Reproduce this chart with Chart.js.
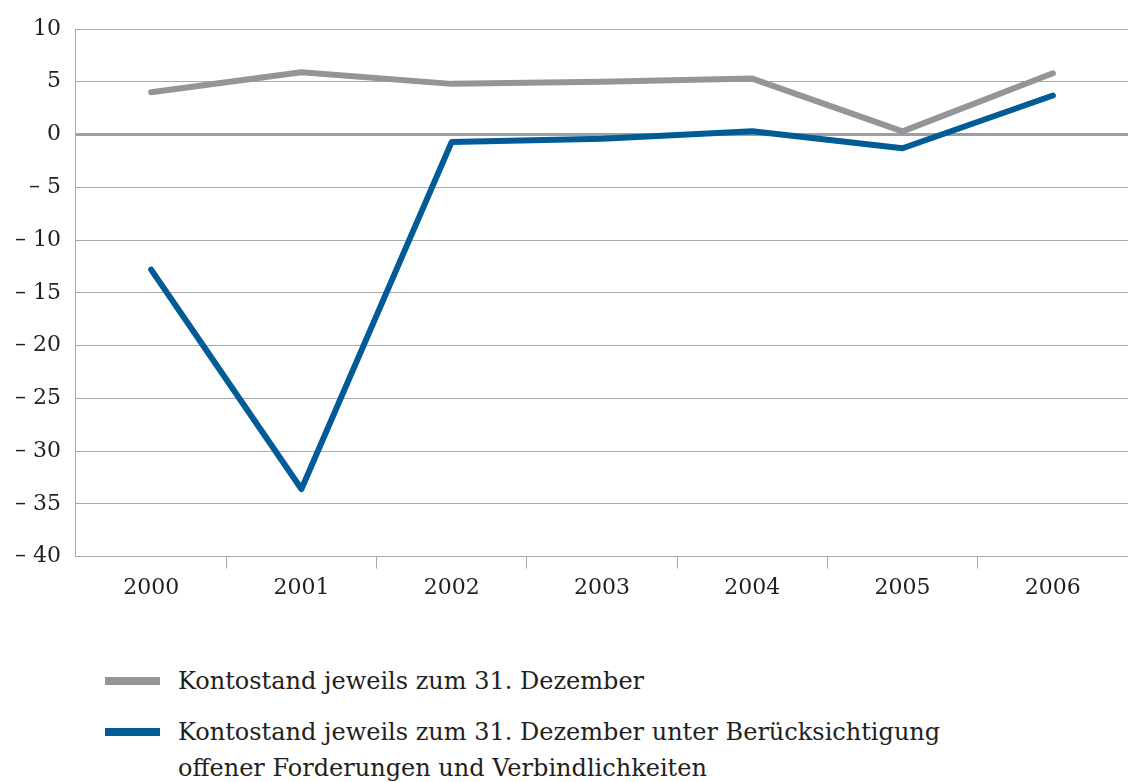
<!DOCTYPE html>
<html>
<head>
<meta charset="utf-8">
<script src="https://cdn.jsdelivr.net/npm/chart.js@4"></script>
<style>
  html, body { margin: 0; padding: 0; background: #fff; }
  body { width: 1128px; height: 782px; position: relative; overflow: hidden; font-family: "DejaVu Serif", serif; color: #231f20; }
  #wrap { position: absolute; left: 0; top: 0; width: 1128px; height: 607px; }
  .legend { position: absolute; left: 105px; font-size: 24px; line-height: 36px; }
  .legend .sw { position: absolute; left: 0; width: 55px; height: 8px; }
  .legend .tx { position: absolute; left: 73px; white-space: nowrap; }
</style>
</head>
<body>
<div id="wrap"><canvas id="chart"></canvas></div>
<div class="legend" style="top:663px">
  <div class="sw" style="top:14px;background:#939598"></div>
  <div class="tx" style="top:0">Kontostand jeweils zum 31. Dezember</div>
</div>
<div class="legend" style="top:714px">
  <div class="sw" style="top:14px;background:#005b96"></div>
  <div class="tx" style="top:0">Kontostand jeweils zum 31. Dezember unter Berücksichtigung<br>offener Forderungen und Verbindlichkeiten</div>
</div>
<script>
const jahre = ['2000', '2001', '2002', '2003', '2004', '2005', '2006'];
const kontostand = [4.0, 5.9, 4.8, 5.0, 5.3, 0.3, 5.8];
const kontostandOffen = [-12.8, -33.6, -0.7, -0.4, 0.3, -1.3, 3.7];

const grau = '#939598';
const blau = '#005b96';
const schrift = { family: '"DejaVu Serif", serif', size: 22 };

function fmt(v) {
  return v < 0 ? '\u2013 ' + Math.abs(v) : String(v);
}

new Chart(document.getElementById('chart'), {
  type: 'line',
  data: {
    labels: jahre,
    datasets: [
      { data: kontostand, borderColor: grau, borderWidth: 6, pointRadius: 0, borderCapStyle: 'round', borderJoinStyle: 'round', tension: 0 },
      { data: kontostandOffen, borderColor: blau, borderWidth: 6, pointRadius: 0, borderCapStyle: 'round', borderJoinStyle: 'round', tension: 0 }
    ]
  },
  options: {
    responsive: true,
    maintainAspectRatio: false,
    animation: false,
    layout: { padding: { top: 29, right: 0, left: 0, bottom: 0 } },
    plugins: { legend: { display: false }, tooltip: { enabled: false } },
    scales: {
      x: {
        offset: true,
        grid: {
          offset: true,
          drawOnChartArea: false,
          tickLength: 12,
          color: ctx => ctx.index === 0 ? 'rgba(0,0,0,0)' : '#a7a9ac',
          lineWidth: 1
        },
        border: { color: '#a7a9ac', width: 1 },
        ticks: { color: '#231f20', font: schrift, padding: 6, maxRotation: 0 }
      },
      y: {
        min: -40,
        max: 10,
        grid: {
          drawTicks: false,
          color: ctx => ctx.tick && ctx.tick.value === 0 ? '#9d9fa2' : '#a7a9ac',
          lineWidth: ctx => ctx.tick && ctx.tick.value === 0 ? 3 : 1
        },
        border: { color: '#a7a9ac', width: 1 },
        ticks: { stepSize: 5, color: '#231f20', font: schrift, padding: 15, callback: v => fmt(v) }
      }
    }
  }
});
</script>
</body>
</html>
